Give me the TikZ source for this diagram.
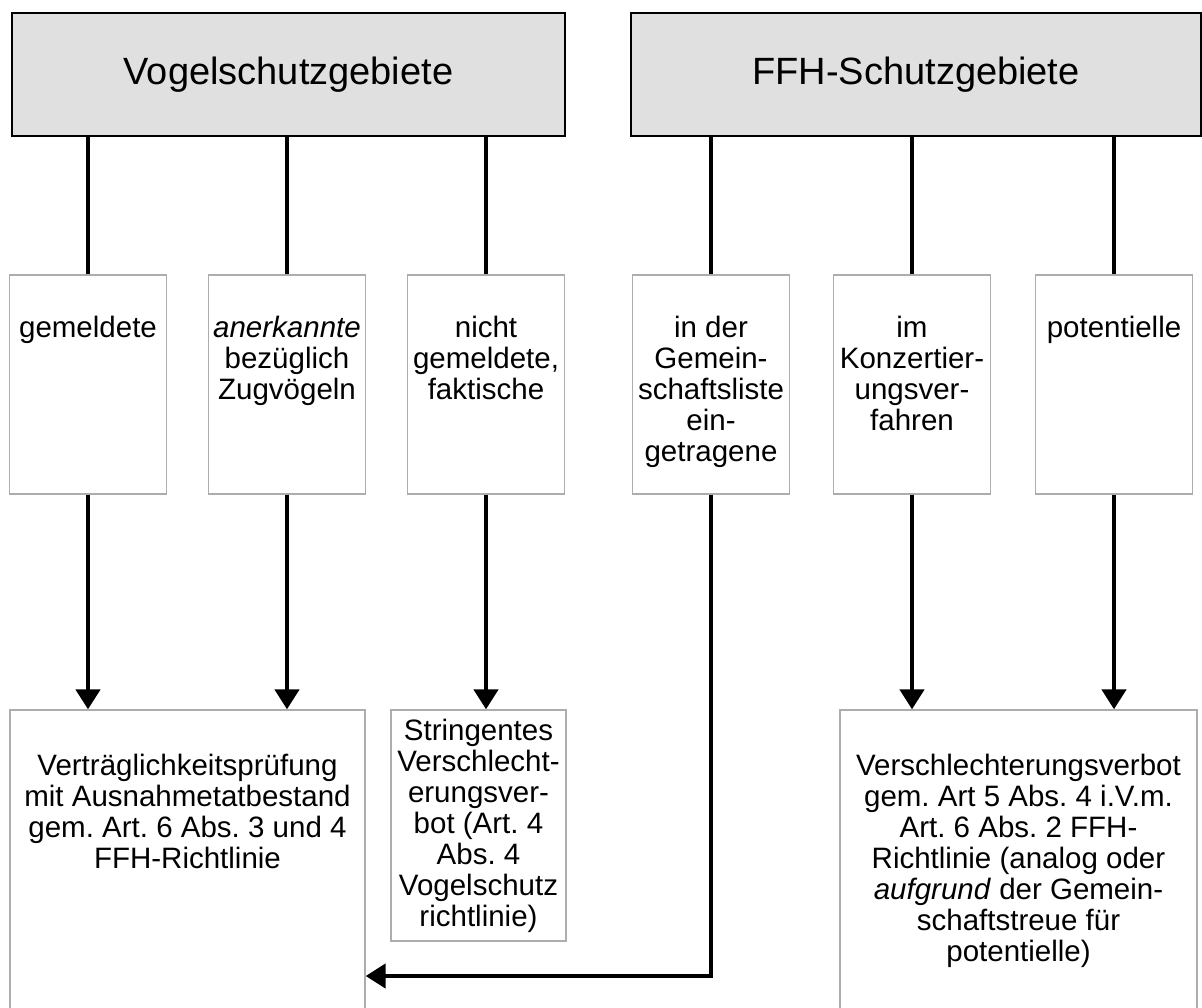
\documentclass[tikz,border=0pt]{standalone}
\usepackage{fontspec}
\setmainfont{Liberation Sans}
\usetikzlibrary{arrows.meta}
\frenchspacing
\newcommand{\boxtxt}[4]{\begin{minipage}[c][#2][t]{#1}\frenchspacing\vspace*{#3}\centering\strut #4\end{minipage}}
\begin{document}
\begin{tikzpicture}[x=1pt,y=-1pt,
  head/.style={draw=black, line width=2pt, fill=black!12, inner sep=0pt,
    font=\fontsize{38}{44}\selectfont},
  box/.style={draw=black!32, line width=1.3pt, inner sep=0pt, fill=white,
    font=\fontsize{29.5}{31.1}\selectfont},
  conn/.style={line width=4.5pt, black},
  arr/.style={conn, -{Triangle[width=24pt,length=20pt]}}]
\useasboundingbox (0,0) rectangle (1202,1008);
\clip (0,0) rectangle (1202,1008);
% headers
\node[head, minimum width=553pt, minimum height=123pt] (vh) at (288.5,74.5) {Vogelschutzgebiete};
\node[head, minimum width=570pt, minimum height=123pt] (fh) at (916,74.5) {FFH-Schutzgebiete};
% middle row
\node[box] (g) at (88,384.5) {\boxtxt{157pt}{219pt}{40.5pt}{gemeldete}};
\node[box] (a) at (287,384.5) {\boxtxt{157pt}{219pt}{40.5pt}{\textit{anerkannte}\\bezüglich\\Zugvögeln}};
\node[box] (n) at (486,384.5) {\boxtxt{157pt}{219pt}{40.5pt}{nicht\\gemeldete,\\faktische}};
\node[box] (e) at (711,384.5) {\boxtxt{157pt}{219pt}{40.5pt}{in der\\Gemein-\\schaftsliste\\ein-\\getragene}};
\node[box] (k) at (912,384.5) {\boxtxt{157pt}{219pt}{40.5pt}{im\\Konzertier-\\ungsver-\\fahren}};
\node[box] (p) at (1114,384.5) {\boxtxt{157pt}{219pt}{40.5pt}{potentielle}};
% bottom row
\node[box] (vt) at (187.5,862.5) {\boxtxt{355pt}{305pt}{43.4pt}{Verträglichkeitsprüfung\\mit Ausnahmetatbestand\\gem. Art. 6 Abs. 3 und 4\\FFH-Richtlinie}};
\node[box] (sv) at (478.5,825.5) {\boxtxt{175pt}{231pt}{8.4pt}{Stringentes\\Verschlecht-\\erungsver-\\bot (Art. 4\\Abs. 4\\Vogelschutz\\richtlinie)}};
\node[box] (vv) at (1018.5,862.5) {\boxtxt{357pt}{305pt}{43.4pt}{Verschlechterungsverbot\\gem. Art 5 Abs. 4 i.V.m.\\Art. 6 Abs. 2 FFH-\\Richtlinie (analog oder\\\textit{aufgrund} der Gemein-\\schaftstreue für\\potentielle)}};
% header connectors
\foreach \m in {g,a,n} \draw[conn] (vh.south -| \m.north) -- (\m.north);
\foreach \m in {e,k,p} \draw[conn] (fh.south -| \m.north) -- (\m.north);
% arrows
\draw[arr] (g.south) -- (g.south |- vt.north);
\draw[arr] (a.south) -- (a.south |- vt.north);
\draw[arr] (n.south) -- (n.south |- sv.north);
\draw[arr] (k.south) -- (k.south |- vv.north);
\draw[arr] (p.south) -- (p.south |- vv.north);
\coordinate (bend) at (711,976);
\draw[arr] (e.south) -- (bend) -- (bend -| vt.east);
\end{tikzpicture}
\end{document}
